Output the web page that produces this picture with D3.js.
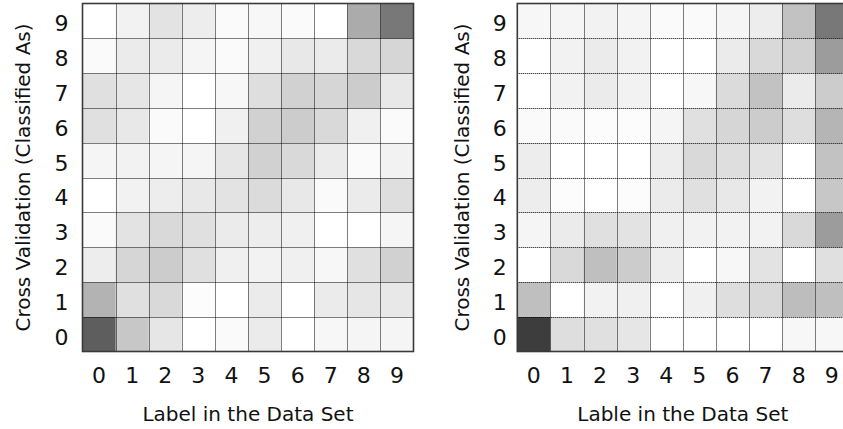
<!DOCTYPE html>
<html>
<head>
<meta charset="utf-8">
<script src="https://cdn.jsdelivr.net/npm/d3@7"></script>
<style>
  html, body { margin: 0; padding: 0; background: #fff; }
  svg { display: block; }
  text { font-family: "DejaVu Sans", Verdana, sans-serif; fill: #111; }
</style>
</head>
<body>
<svg id="chart" width="843" height="429"></svg>
<script>
// Class labels shared by both axes
const classes = ["0", "1", "2", "3", "4", "5", "6", "7", "8", "9"];

// Shading (percent darkness) per cell: leftMatrix[classifiedAs][label]
const leftMatrix = [
  [63, 22, 10, 0, 2, 8, 0, 3, 4, 4],
  [30, 12, 15, 1, 0, 8, 0, 8, 10, 9],
  [7, 16, 20, 12, 6, 5, 6, 3, 12, 18],
  [2, 11, 15, 12, 8, 7, 6, 0, 0, 4],
  [0, 5, 7, 9, 11, 14, 9, 2, 8, 13],
  [4, 5, 4, 4, 10, 18, 15, 8, 2, 5],
  [12, 9, 2, 0, 6, 18, 20, 15, 6, 2],
  [12, 10, 4, 0, 3, 13, 18, 16, 20, 9],
  [2, 8, 8, 4, 2, 6, 9, 8, 15, 16],
  [0, 5, 11, 7, 2, 3, 2, 0, 33, 53]
];

const rightMatrix = [
  [76, 13, 12, 10, 0, 0, 0, 0, 3, 3],
  [25, 0, 5, 6, 0, 6, 13, 15, 26, 25],
  [0, 15, 25, 20, 7, 0, 3, 11, 0, 12],
  [4, 8, 12, 11, 6, 5, 5, 5, 15, 39],
  [7, 1, 0, 1, 8, 12, 9, 5, 0, 22],
  [7, 0, 0, 0, 7, 15, 13, 11, 0, 24],
  [2, 2, 1, 1, 4, 12, 16, 20, 13, 29],
  [0, 5, 8, 5, 0, 3, 14, 24, 8, 20],
  [0, 5, 8, 5, 0, 0, 8, 15, 18, 39],
  [3, 4, 5, 4, 2, 2, 4, 7, 24, 53]
];

const xTitles = ["Label in the Data Set", "Lable in the Data Set"];
const yTitle = "Cross Validation (Classified As)";

const svg = d3.select("#chart");
const shade = d3.scaleLinear().domain([0, 100]).range(["#ffffff", "#000000"]);

const plotTop = 3.5, plotBottom = 351.5, plotW = 331;

const panels = [
  { left: 82.5, matrix: leftMatrix, xTitle: xTitles[0], tickGap: 14, titleGap: 53 },
  { left: 517.3, matrix: rightMatrix, xTitle: xTitles[1], tickGap: 10.5, titleGap: 48 }
];

panels.forEach(p => {
  const x = d3.scaleBand().domain(classes).range([p.left, p.left + plotW]);
  const y = d3.scaleBand().domain(classes).range([plotBottom, plotTop]);
  const g = svg.append("g");

  // heat cells
  const cells = [];
  p.matrix.forEach((row, r) => row.forEach((v, c) => cells.push({ r: classes[r], c: classes[c], v })));
  g.selectAll("rect.cell").data(cells).join("rect")
    .attr("class", "cell")
    .attr("x", d => x(d.c))
    .attr("y", d => y(d.r))
    .attr("width", x.bandwidth() + 0.3)
    .attr("height", y.bandwidth() + 0.3)
    .attr("fill", d => shade(d.v));

  // dotted inner grid lines
  const grid = g.append("g")
    .attr("stroke", "#000")
    .attr("stroke-width", 1)
    .attr("stroke-dasharray", "1,1");
  grid.selectAll("line.v").data(classes.slice(1)).join("line")
    .attr("class", "v")
    .attr("x1", d => Math.round(x(d)) + 0.5).attr("x2", d => Math.round(x(d)) + 0.5)
    .attr("y1", plotTop).attr("y2", plotBottom);
  grid.selectAll("line.h").data(classes.slice(1)).join("line")
    .attr("class", "h")
    .attr("y1", d => Math.round(y(d) + y.bandwidth()) + 0.5)
    .attr("y2", d => Math.round(y(d) + y.bandwidth()) + 0.5)
    .attr("x1", p.left).attr("x2", p.left + plotW);

  // frame
  g.append("rect")
    .attr("x", p.left).attr("y", plotTop)
    .attr("width", plotW).attr("height", plotBottom - plotTop)
    .attr("fill", "none")
    .attr("stroke", "#3a3a3a")
    .attr("stroke-width", 1.6);

  // x tick labels
  g.selectAll("text.xt").data(classes).join("text")
    .attr("class", "xt")
    .attr("x", d => x(d) + x.bandwidth() / 2)
    .attr("y", 383)
    .attr("text-anchor", "middle")
    .attr("font-size", 22)
    .text(d => d);

  // y tick labels
  g.selectAll("text.yt").data(classes).join("text")
    .attr("class", "yt")
    .attr("x", p.left - p.tickGap)
    .attr("y", d => y(d) + y.bandwidth() / 2 + 10.5)
    .attr("text-anchor", "end")
    .attr("font-size", 22)
    .text(d => d);

  // axis titles
  g.append("text")
    .attr("x", p.left + plotW / 2)
    .attr("y", 421)
    .attr("text-anchor", "middle")
    .attr("font-size", 20)
    .text(p.xTitle);

  g.append("text")
    .attr("transform", `translate(${p.left - p.titleGap},${(plotTop + plotBottom) / 2}) rotate(-90)`)
    .attr("text-anchor", "middle")
    .attr("font-size", 20)
    .text(yTitle);
});
</script>
</body>
</html>
